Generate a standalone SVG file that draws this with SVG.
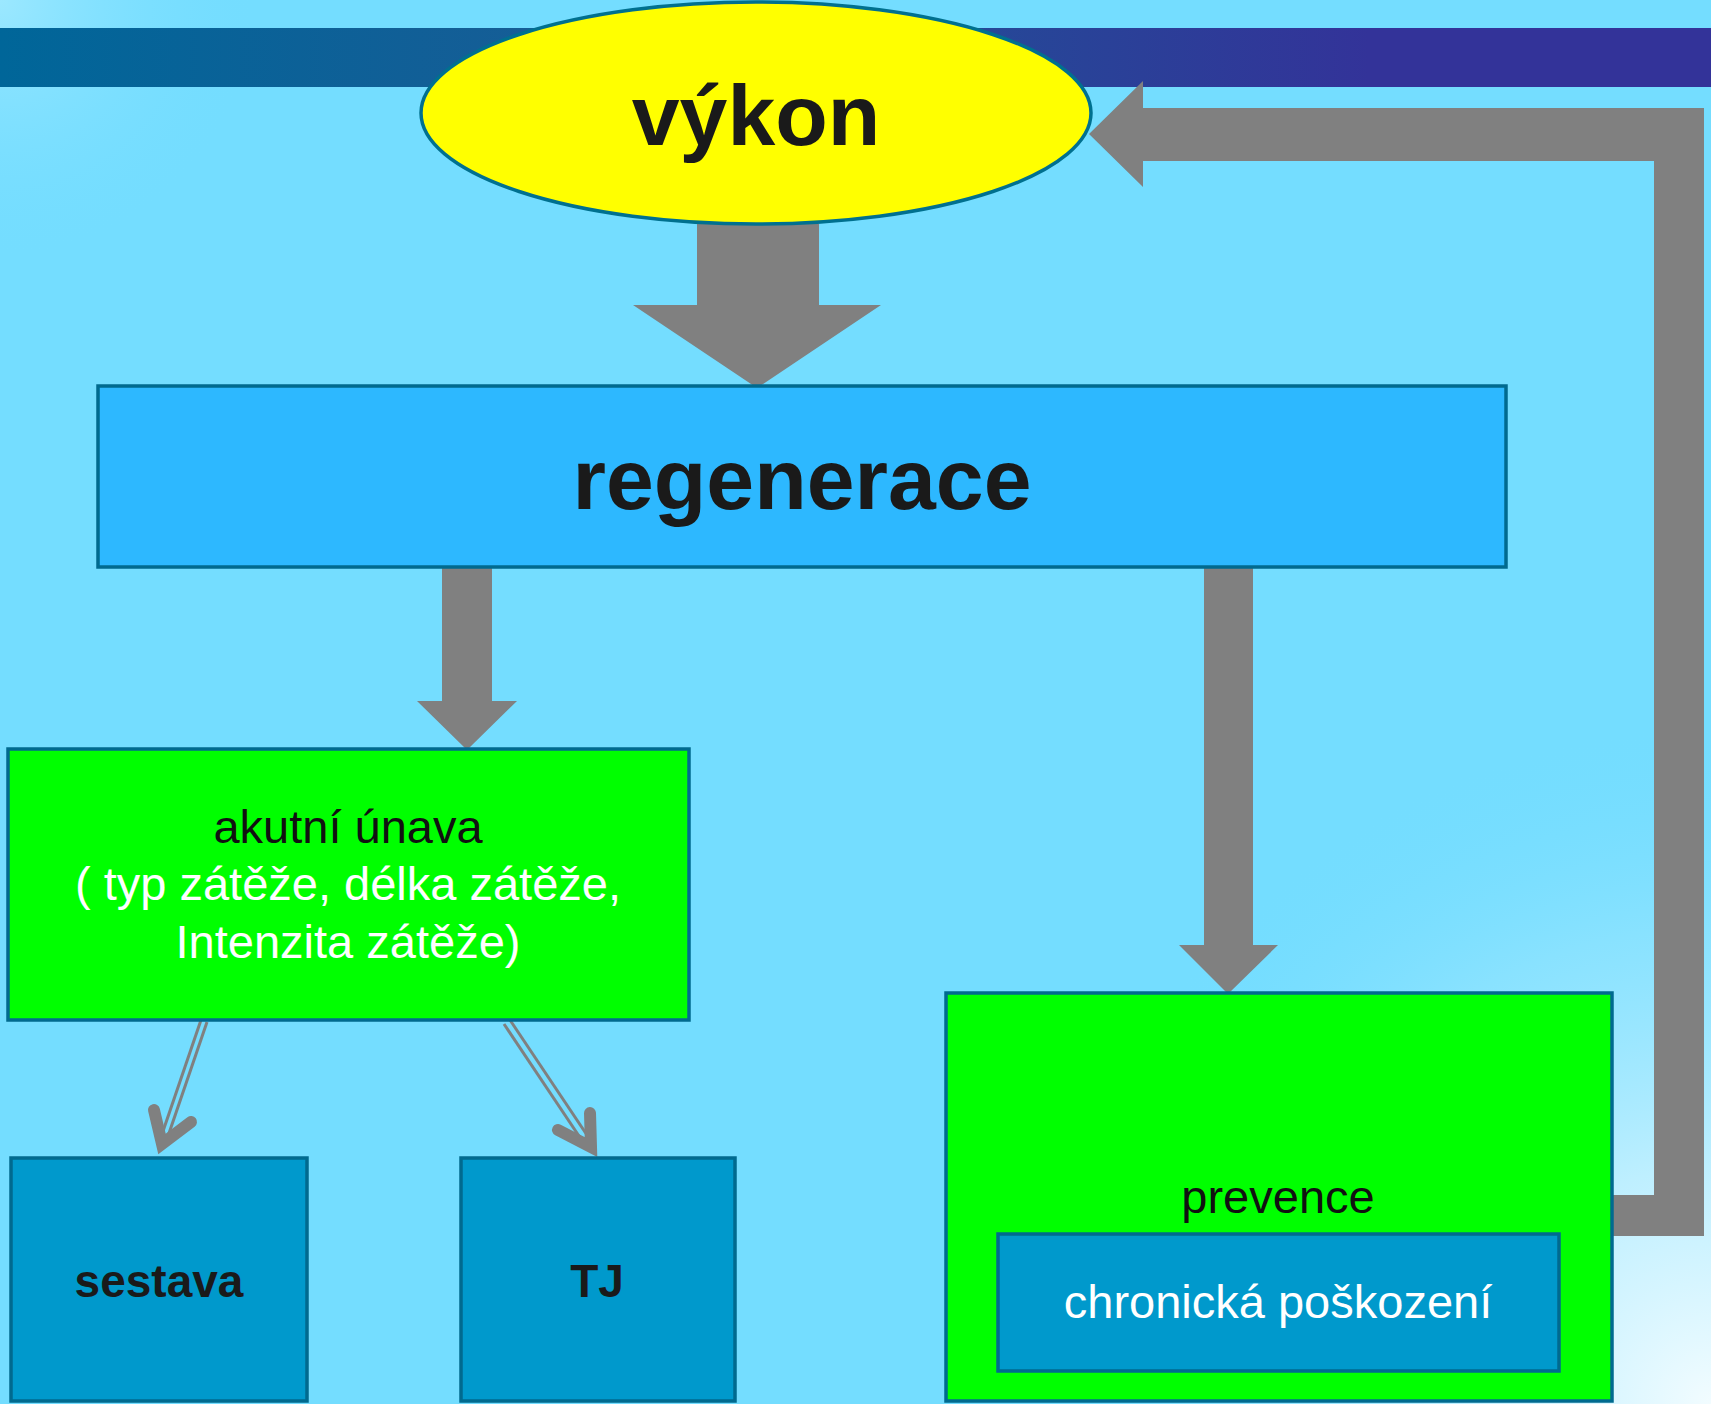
<svg xmlns="http://www.w3.org/2000/svg" width="1711" height="1404" viewBox="0 0 1711 1404">
  <defs>
    <linearGradient id="band" x1="0" y1="0" x2="1" y2="0">
      <stop offset="0" stop-color="#006699"/>
      <stop offset="0.35" stop-color="#185c96"/>
      <stop offset="0.8" stop-color="#333399"/>
      <stop offset="1" stop-color="#333399"/>
    </linearGradient>
    <radialGradient id="glowBR" gradientUnits="userSpaceOnUse" cx="1711" cy="1404" r="680">
      <stop offset="0" stop-color="#f2fcff" stop-opacity="1"/>
      <stop offset="0.35" stop-color="#c6f1ff" stop-opacity="0.9"/>
      <stop offset="0.7" stop-color="#9de7ff" stop-opacity="0.5"/>
      <stop offset="1" stop-color="#74ddff" stop-opacity="0"/>
    </radialGradient>
    <radialGradient id="glowTL" gradientUnits="userSpaceOnUse" cx="0" cy="0" r="260">
      <stop offset="0" stop-color="#9ce8ff" stop-opacity="1"/>
      <stop offset="1" stop-color="#74ddff" stop-opacity="0"/>
    </radialGradient>
    <style>
      .box { stroke: #006a8f; stroke-width: 3.5; }
      .green { fill: #00ff00; }
      .dark { fill: #0099cc; }
      .big { fill: #808080; }
      .thin { stroke: #808080; stroke-width: 3; fill: none; }
      .head { stroke: #808080; stroke-width: 12; fill: none; stroke-linecap: round; stroke-linejoin: miter; stroke-miterlimit: 10; }
      .t { font-family: "Liberation Sans", Arial, sans-serif; text-anchor: middle; }
      .b { font-weight: bold; fill: #1a1a1a; }
      .r { font-size: 47px; }
      .blk { fill: #111111; }
      .wht { fill: #ffffff; }
    </style>
  </defs>

  <rect x="0" y="0" width="1711" height="1404" fill="#74ddff"/>
  <rect x="0" y="0" width="1711" height="1404" fill="url(#glowTL)"/>
  <rect x="0" y="0" width="1711" height="1404" fill="url(#glowBR)"/>
  <rect x="0" y="28" width="1711" height="59" fill="url(#band)"/>

  <g id="connectors">
    <polygon class="big" points="697,224 819,224 819,305 881,305 757,388 633,305 697,305"/>
    <polygon class="big" points="442,566 492,566 492,701 517,701 467,750 417,701 442,701"/>
    <polygon class="big" points="1204,566 1253,566 1253,945 1278,945 1228,994 1179,945 1204,945"/>
    <polygon class="big" points="1610,1195 1654,1195 1654,161 1143,161 1143,187 1089,134 1143,81 1143,108 1704,108 1704,1236 1610,1236"/>
    <g id="arrow-sestava">
      <line class="thin" x1="201" y1="1020" x2="160" y2="1140"/>
      <line class="thin" x1="207" y1="1022" x2="166" y2="1142"/>
      <polyline class="head" points="154,1110 162,1144 191,1122"/>
    </g>
    <g id="arrow-tj">
      <line class="thin" x1="504" y1="1024" x2="587" y2="1148"/>
      <line class="thin" x1="510" y1="1020" x2="593" y2="1144"/>
      <polyline class="head" points="590,1113 591,1147 558,1130"/>
    </g>
  </g>

  <g id="node-vykon">
    <ellipse cx="756" cy="113" rx="335" ry="111" fill="#ffff00" stroke="#00708f" stroke-width="3.5"/>
    <text class="t b" x="756" y="145" font-size="86">výkon</text>
  </g>

  <g id="node-regenerace">
    <rect class="box" x="98" y="386" width="1408" height="181" fill="#2db8ff"/>
    <text class="t b" x="802" y="509" font-size="86">regenerace</text>
  </g>

  <g id="node-akutni">
    <rect class="box green" x="8" y="749" width="681" height="271"/>
    <text class="t r blk" x="348" y="843">akutní únava</text>
    <text class="t r wht" x="348" y="900">( typ zátěže, délka zátěže,</text>
    <text class="t r wht" x="348" y="958">Intenzita zátěže)</text>
  </g>

  <g id="node-sestava">
    <rect class="box dark" x="11" y="1158" width="296" height="243"/>
    <text class="t b" x="159" y="1297" font-size="46">sestava</text>
  </g>

  <g id="node-tj">
    <rect class="box dark" x="461" y="1158" width="274" height="243"/>
    <text class="t b" x="597" y="1297" font-size="46">TJ</text>
  </g>

  <g id="node-prevence">
    <rect class="box green" x="946" y="993" width="666" height="408"/>
    <text class="t r blk" x="1278" y="1213">prevence</text>
  </g>

  <g id="node-chronicka">
    <rect class="box dark" x="998" y="1234" width="561" height="137"/>
    <text class="t r wht" x="1278" y="1318">chronická poškození</text>
  </g>
</svg>
